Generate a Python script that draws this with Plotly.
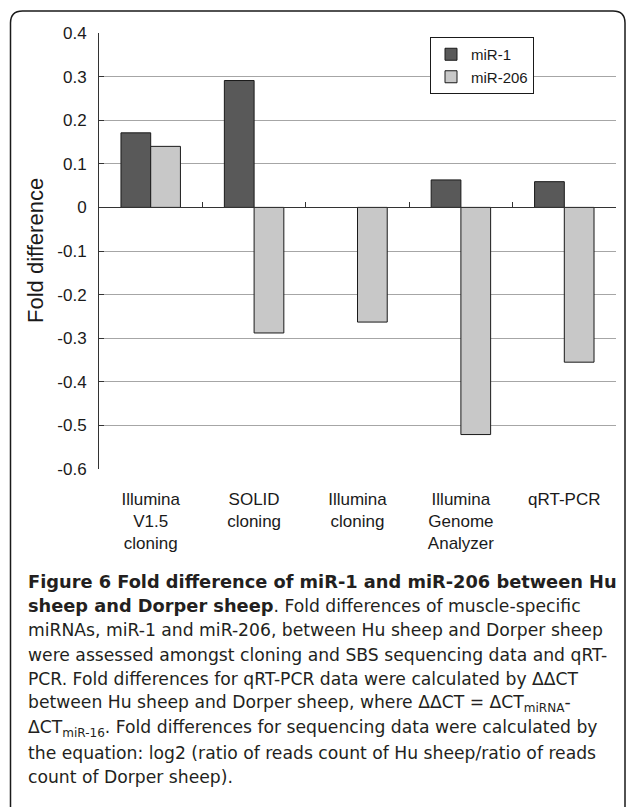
import plotly.graph_objects as go

categories = ["Illumina<br>V1.5<br>cloning", "SOLID<br>cloning", "Illumina<br>cloning",
              "Illumina<br>Genome<br>Analyzer", "qRT-PCR"]
mir1 = [0.171, 0.291, None, 0.063, 0.059]
mir206 = [0.140, -0.288, -0.263, -0.521, -0.355]
ytick_vals = [0.4, 0.3, 0.2, 0.1, 0.0, -0.1, -0.2, -0.3, -0.4, -0.5, -0.6]
ytick_text = ["0.4", "0.3", "0.2", "0.1", "0", "-0.1", "-0.2", "-0.3", "-0.4", "-0.5", "-0.6"]
grid_vals = [0.3, 0.2, 0.1, -0.1, -0.2, -0.3, -0.4, -0.5]
B = '<b style="font-size:17.8px">'
caption_lines = [
    B + "Figure 6 Fold difference of miR-1 and miR-206 between Hu</b>",
    B + "sheep and Dorper sheep</b>. Fold differences of muscle-specific",
    "miRNAs, miR-1 and miR-206, between Hu sheep and Dorper sheep",
    "were assessed amongst cloning and SBS sequencing data and qRT-",
    "PCR. Fold differences for qRT-PCR data were calculated by ΔΔCT",
    "between Hu sheep and Dorper sheep, where ΔΔCT = ΔCT<sub>miRNA</sub>-",
    "ΔCT<sub>miR-16</sub>. Fold differences for sequencing data were calculated by",
    "the equation: log2 (ratio of reads count of Hu sheep/ratio of reads",
    "count of Dorper sheep).",
]

W, H = 627, 807
ML, MR, MT, MB = 99, 11, 33, 338
PW, PH = W - ML - MR, H - MT - MB


def px_x(x):
    return (x - ML) / PW


def px_y(y):
    return (H - MB - y) / PH


fig = go.Figure()
fig.add_trace(go.Bar(x=categories, y=mir1, name="miR-1", legendgroup="a",
                     marker=dict(color="#595959", line=dict(color="#1a1a1a", width=1))))
fig.add_trace(go.Bar(x=categories, y=mir206, name="miR-206", legendgroup="b",
                     marker=dict(color="#c8c8c8", line=dict(color="#1a1a1a", width=1))))
# invisible helpers so the overlay axes are drawn
fig.add_trace(go.Scatter(x=[0], y=[0], xaxis="x2", yaxis="y", mode="markers",
                         marker=dict(opacity=0), showlegend=False, hoverinfo="skip"))
fig.add_trace(go.Scatter(x=[categories[0]], y=[0], xaxis="x", yaxis="y2", mode="markers",
                         marker=dict(opacity=0), showlegend=False, hoverinfo="skip"))

axis_font = dict(family="Arial, Liberation Sans, sans-serif", size=17, color="#1a1a1a")

# rounded frame
x0, x1 = px_x(10.5), px_x(625)
yt, yb = px_y(11), px_y(820)
rx, ry = 12 / PW, 12 / PH
path = (f"M {x0},{yb} L {x0},{yt - ry} Q {x0},{yt} {x0 + rx},{yt} "
        f"L {x1 - rx},{yt} Q {x1},{yt} {x1},{yt - ry} L {x1},{yb}")

annotations = [
    dict(text="Fold difference", textangle=-90, x=px_x(35), y=0.5, xref="paper",
         yref="paper", xanchor="center", yanchor="middle", showarrow=False,
         font=dict(family="Arial, Liberation Sans, sans-serif", size=22, color="#1a1a1a")),
]
for i, line in enumerate(caption_lines):
    annotations.append(dict(text=line, x=px_x(26), y=px_y(581 + i * 24.5), xref="paper",
                            yref="paper", xanchor="left", yanchor="middle", align="left",
                            showarrow=False,
                            font=dict(family="DejaVu Sans, sans-serif", size=17.2,
                                      color="#231f20")))

fig.update_layout(
    width=W, height=H,
    margin=dict(l=ML, r=MR, t=MT, b=MB, pad=0),
    paper_bgcolor="white", plot_bgcolor="white",
    barmode="group", bargap=0.425, bargroupgap=0,
    showlegend=True,
    legend=dict(x=px_x(430), y=px_y(37), xanchor="left", yanchor="top",
                bgcolor="white", bordercolor="#1a1a1a", borderwidth=1,
                font=dict(family="Arial, Liberation Sans, sans-serif", size=15, color="#1a1a1a"),
                itemwidth=30, tracegroupgap=2, traceorder="normal"),
    xaxis=dict(type="category", showline=False, ticks="", showgrid=False, zeroline=False,
               tickfont=axis_font, ticklabelstandoff=18),
    xaxis2=dict(overlaying="x", anchor="free", position=0.6, range=[-0.5, 4.5],
                tickvals=[0.5, 1.5, 2.5, 3.5, 4.5], ticks="inside", ticklen=5,
                tickcolor="#333333", showticklabels=False, showline=True,
                linecolor="#333333", linewidth=1, showgrid=False, zeroline=False),
    yaxis=dict(range=[-0.6, 0.4], tickvals=grid_vals, showticklabels=False, ticks="",
               showgrid=True, gridcolor="#a6a6a6", gridwidth=1, zeroline=False,
               showline=False),
    yaxis2=dict(overlaying="y", side="left", range=[-0.6, 0.4], tickvals=ytick_vals,
                ticktext=ytick_text, ticks="inside", ticklen=5, tickcolor="#333333",
                showline=True, linecolor="#333333", linewidth=1, showgrid=False,
                zeroline=False, tickfont=axis_font, ticklabelstandoff=8),
    shapes=[dict(type="path", path=path, xref="paper", yref="paper",
                 line=dict(color="#1a1a1a", width=1.5))],
    annotations=annotations,
)

fig.write_html("out.html", config={"displayModeBar": False},
               post_script="document.body.style.margin='0';")
